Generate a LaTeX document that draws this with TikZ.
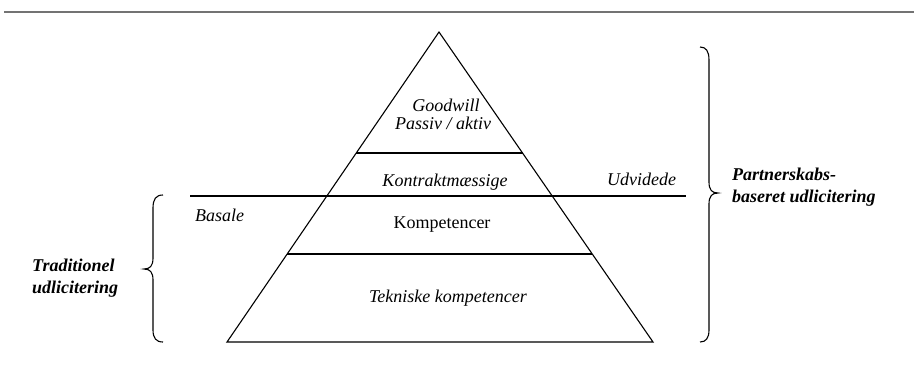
\documentclass[tikz,border=0pt]{standalone}
\usepackage{fontspec}
\setmainfont{Liberation Serif}
\usetikzlibrary{calc}
\begin{document}
\begin{tikzpicture}[x=1pt,y=-1pt,
  edge/.style={line width=1.1pt,black},
  lbl/.style={inner sep=0pt,anchor=base,font=\fontsize{18}{21}\selectfont\itshape},
  lblup/.style={inner sep=0pt,anchor=base,font=\fontsize{18}{21}\selectfont},
  group/.style={inner sep=0pt,anchor=base west,font=\fontsize{18}{21}\selectfont\bfseries\itshape},
  rule/.style={line width=2.2pt,black!55}]
\useasboundingbox (0,0) rectangle (914,368);

% header rule
\coordinate (r1) at (4,12);
\coordinate (r2) at (914,12);
\draw[rule] (r1) -- (r2);

% pyramid outline
\coordinate (apex) at (439,32);
\coordinate (bl) at (227,342);
\coordinate (br) at (653,342);
\draw[edge,line join=miter] (apex) -- (bl) -- (br) -- cycle;

% layer divisions
\coordinate (d1l) at ($(apex)!0.3903!(bl)$);
\coordinate (d1r) at ($(apex)!0.3903!(br)$);
\coordinate (d3l) at ($(apex)!0.7161!(bl)$);
\coordinate (d3r) at ($(apex)!0.7161!(br)$);
\draw[edge] (d1l) -- (d1r);
\draw[edge] (d3l) -- (d3r);

% dividing line between basic and extended
\coordinate (hl) at (190,196);
\coordinate (hr) at (686,196);
\draw[edge] (hl) -- (hr);

% layer labels
\node[lbl] (goodwill) at (446,111) {Goodwill};
\node[lbl] (passiv) at (443,129) {Passiv / aktiv};
\node[lbl] (kontrakt) at (445,186) {Kontraktmæssige};
\node[lblup] (komp) at (442,228) {Kompetencer};
\node[lbl] (tekn) at (448,302) {Tekniske kompetencer};
\node[lbl,anchor=base west] (udv) at (607,185) {Udvidede};
\node[lbl,anchor=base west] (bas) at (195,221) {Basale};

% left brace
\coordinate (lbt) at (163,195);
\coordinate (lbb) at (163,342);
\draw[edge] (lbt) .. controls (156,195) and (153,199) .. (153,208)
  -- (153,258) .. controls (153,266) and (150,269) .. (144,269)
  .. controls (150,269) and (153,272) .. (153,280)
  -- (153,330) .. controls (153,338) and (156,342) .. (lbb);

% right brace
\coordinate (rbt) at (700,47);
\coordinate (rbb) at (700,342);
\draw[edge] (rbt) .. controls (706,47) and (709,51) .. (709,60)
  -- (709,182) .. controls (709,190) and (712,193) .. (718,193)
  .. controls (712,193) and (709,196) .. (709,204)
  -- (709,330) .. controls (709,338) and (706,342) .. (rbb);

% group labels
\node[group] (trad1) at (32,271) {Traditionel};
\node[group] (trad2) at (32,293) {udlicitering};
\node[group] (part1) at (732,180) {Partnerskabs-};
\node[group] (part2) at (732,202) {baseret udlicitering};
\end{tikzpicture}
\end{document}
